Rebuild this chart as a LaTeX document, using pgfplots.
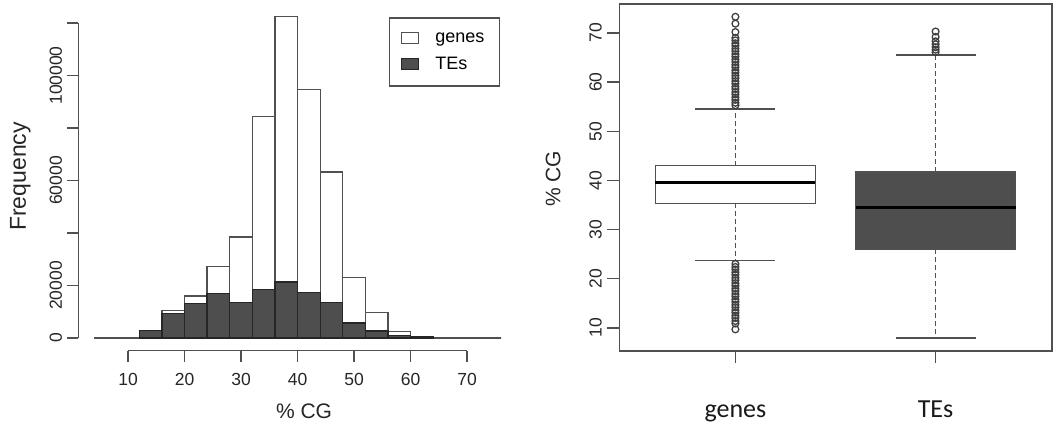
\documentclass[border=0pt]{standalone}
\usepackage{pgfplots}
\pgfplotsset{compat=1.18}
\usepgfplotslibrary{statistics}
\usepackage{fontspec}
\setmainfont{Liberation Sans}
\newfontfamily\carlito{Carlito}
\definecolor{linegray}{RGB}{80,80,80}
\definecolor{tefill}{RGB}{78,78,78}
\pgfplotsset{
  histlegend/.style={legend image code/.code={\draw[##1, line width=1.2pt] (0pt,-5pt) rectangle (17pt,6pt);}},
}

\begin{document}
\begin{tikzpicture}
\useasboundingbox (0,0) rectangle (1057pt,428pt);

% left panel: histograms of %CG
\begin{axis}[
  at={(78.3pt,77.2pt)}, anchor=south west,
  scale only axis, width=422.7pt, height=347.3pt,
  xmin=1.2, xmax=76, ymin=-4900, ymax=127440,
  clip=false,
  axis x line*=bottom, axis y line*=left,
  axis line style={draw=none},
  tick align=outside, major tick length=11pt,
  every tick/.style={linegray, line width=1.3pt},
  xtick={10,20,...,70},
  ytick={0,20000,...,120000},
  yticklabels={0,20000,,60000,,100000,},
  scaled y ticks=false,
  /pgf/number format/assume math mode=true,
  ticklabel style={font=\fontsize{17.5}{20}\selectfont, text=black!85},
  xticklabel style={anchor=base}, xticklabel shift=24pt,
  yticklabel style={rotate=90, anchor=base}, yticklabel shift=5.3pt,
  xlabel={\% CG},
  xlabel style={at={(rel axis cs:0.534,-0.194)}, anchor=base, font=\fontsize{21}{24}\selectfont, text=black!85},
  ylabel={Frequency},
  ylabel style={at={(rel axis cs:-0.137,0.502)}, anchor=center, font=\fontsize{23}{26}\selectfont, text=black!85},
  legend style={at={(rel axis cs:0.998,0.96)}, anchor=north east, draw=linegray, line width=1.3pt,
    font=\fontsize{18}{20}\selectfont, inner xsep=12pt, inner ysep=12pt, row sep=7pt, column sep=13pt,
    nodes={inner sep=3pt}},
  legend cell align=left,
]
\addplot[ybar interval, draw=linegray, line width=1.3pt, fill=white, histlegend]
  coordinates {
  (4,0) (8,0) (12,2500) (16,10540) (20,16000) (24,27300) (28,38480) (32,84440)
  (36,122540) (40,94600) (44,63240) (48,22980) (52,9780) (56,2410) (60,600)
  (64,100) (68,0) (72,0) (76,0)
  };
\addlegendentry{genes}
\addplot[ybar interval, draw=black!85, line width=1.3pt, fill=tefill, histlegend]
  coordinates {
  (12,2800) (16,9270) (20,13080) (24,16890) (28,13590) (32,18410) (36,21330)
  (40,17400) (44,13590) (48,5710) (52,2670) (56,890) (60,380) (64,0)
  };
\addlegendentry{TEs}
\draw[linegray, line width=1.3pt] (axis cs:10,-4900) -- (axis cs:70,-4900);
\draw[linegray, line width=1.3pt] (axis cs:1.2,0) -- (axis cs:1.2,120000);
\end{axis}

% right panel: boxplots of %CG
\begin{axis}[
  at={(619.3pt,77pt)}, anchor=south west,
  scale only axis, width=432.4pt, height=347pt,
  xmin=0.42, xmax=2.58, ymin=5.3, ymax=75.9,
  axis line style={linegray, line width=1.6pt},
  tick align=outside, major tick length=12pt,
  every tick/.style={linegray, line width=1.3pt},
  xtick pos=bottom, ytick pos=left,
  xtick={1,2}, xticklabels={genes,TEs},
  ytick={10,20,...,70},
  /pgf/number format/assume math mode=true,
  yticklabel style={rotate=90, anchor=base, font=\fontsize{17.5}{20}\selectfont, text=black!85},
  yticklabel shift=5.6pt,
  xticklabel style={anchor=base, font=\carlito\fontsize{26}{30}\selectfont, text=black!90},
  xticklabel shift=55pt,
  ylabel={\% CG},
  ylabel style={at={(rel axis cs:-0.153,0.496)}, anchor=center, font=\fontsize{21}{24}\selectfont, text=black!85},
  boxplot/draw direction=y,
  boxplot/every median/.style={draw=black, line width=3pt},
  boxplot/draw/upper whisker/.code={
    \draw[dash pattern=on 5pt off 3pt]
      (boxplot box cs:\pgfplotsboxplotvalue{upper quartile},0.5) --
      (boxplot box cs:\pgfplotsboxplotvalue{upper whisker},0.5);
    \draw (boxplot whisker cs:\pgfplotsboxplotvalue{upper whisker},0) --
      (boxplot whisker cs:\pgfplotsboxplotvalue{upper whisker},1);
  },
  boxplot/draw/lower whisker/.code={
    \draw[dash pattern=on 5pt off 3pt]
      (boxplot box cs:\pgfplotsboxplotvalue{lower quartile},0.5) --
      (boxplot box cs:\pgfplotsboxplotvalue{lower whisker},0.5);
    \draw (boxplot whisker cs:\pgfplotsboxplotvalue{lower whisker},0) --
      (boxplot whisker cs:\pgfplotsboxplotvalue{lower whisker},1);
  },
]
\addplot[draw=linegray, line width=1.6pt,
  boxplot/every box/.style={fill=white},
  boxplot prepared={draw position=1, lower whisker=23.7, lower quartile=35.33,
    median=39.5, upper quartile=43.04, upper whisker=54.5,
    box extend=0.8, whisker extend=0.4}]
  coordinates {};
\addplot[draw=linegray, line width=1.6pt,
  boxplot/every box/.style={fill=tefill},
  boxplot prepared={draw position=2, lower whisker=8.0, lower quartile=26.0,
    median=34.5, upper quartile=41.7, upper whisker=65.5,
    box extend=0.8, whisker extend=0.4}]
  coordinates {};
% outliers
\addplot[only marks, mark=o, mark size=3.4pt, draw=black!75, line width=1.3pt] coordinates {
  (1,55.3) (1,55.8) (1,56.4) (1,56.9) (1,57.5) (1,58.0) (1,58.6) (1,59.1) (1,59.7)
  (1,60.2) (1,60.8) (1,61.3) (1,61.9) (1,62.4) (1,63.0) (1,63.5) (1,64.1) (1,64.6)
  (1,65.2) (1,65.7) (1,66.3) (1,66.8) (1,67.4) (1,67.9) (1,68.5) (1,69.0) (1,70.2)
  (1,71.9) (1,73.3)
  (1,23.0) (1,22.4) (1,21.9) (1,21.3) (1,20.8) (1,20.2) (1,19.7) (1,19.1) (1,18.6)
  (1,18.0) (1,17.5) (1,16.9) (1,16.4) (1,15.8) (1,15.3) (1,14.7) (1,14.2) (1,13.6)
  (1,13.1) (1,12.5) (1,12.0) (1,11.4) (1,10.9) (1,9.7)
  (2,66.1) (2,66.6) (2,67.1) (2,67.7) (2,68.3) (2,69.2) (2,70.3)
};
\end{axis}
\end{tikzpicture}
\end{document}
